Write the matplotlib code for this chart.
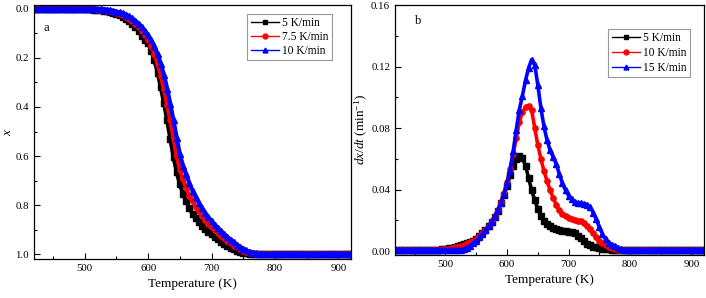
import numpy as np
import matplotlib
matplotlib.use("Agg")
import matplotlib.pyplot as plt
from matplotlib.lines import Line2D
from matplotlib.ticker import MultipleLocator, FormatStrFormatter

plt.rcParams['font.family'] = ['Liberation Serif', 'DejaVu Serif']
plt.rcParams['mathtext.fontset'] = 'custom'
plt.rcParams['mathtext.rm'] = 'Liberation Serif'
plt.rcParams['mathtext.it'] = 'Liberation Serif:italic'

# temperature grid (K), 5 K sampling
temp = np.arange(420, 925, 5)

# panel a: conversion x
x_5 = [0.0, 0.0, 0.0, 0.0, 0.0, 0.0, 0.0, 0.0, 0.0, 0.0, 0.0, 0.0, 0.0, 0.0, 0.0, 0.0,
       0.001, 0.001, 0.002, 0.003, 0.004, 0.006, 0.008, 0.010, 0.013, 0.016,
       0.020, 0.025, 0.032, 0.040, 0.050, 0.062, 0.075, 0.091, 0.110, 0.125,
       0.140, 0.170, 0.210, 0.260, 0.320, 0.385, 0.455, 0.530, 0.605, 0.665,
       0.715, 0.755, 0.785, 0.812, 0.835, 0.853, 0.870, 0.884, 0.897, 0.909,
       0.920, 0.930, 0.940, 0.950, 0.959, 0.967, 0.974, 0.980, 0.986, 0.990,
       0.994, 0.997, 0.998, 0.999,
       1.0, 1.0, 1.0, 1.0, 1.0, 1.0, 1.0, 1.0, 1.0, 1.0, 1.0, 1.0, 1.0, 1.0, 1.0, 1.0,
       1.0, 1.0, 1.0, 1.0, 1.0, 1.0, 1.0, 1.0, 1.0, 1.0, 1.0, 1.0, 1.0, 1.0, 1.0]
x_75 = [0.0, 0.0, 0.0, 0.0, 0.0, 0.0, 0.0, 0.0, 0.0, 0.0, 0.0, 0.0, 0.0, 0.0, 0.0, 0.0, 0.0, 0.0,
        0.001, 0.002, 0.003, 0.004, 0.006, 0.008, 0.010, 0.013, 0.016, 0.020,
        0.025, 0.032, 0.040, 0.050, 0.061, 0.074, 0.090, 0.108, 0.128, 0.153,
        0.185, 0.225, 0.272, 0.328, 0.390, 0.455, 0.528, 0.600, 0.655, 0.695,
        0.730, 0.762, 0.785, 0.806, 0.826, 0.845, 0.862, 0.877, 0.890, 0.902,
        0.914, 0.925, 0.936, 0.946, 0.956, 0.965, 0.973, 0.980, 0.986, 0.991,
        0.994, 0.997, 0.999,
        1.0, 1.0, 1.0, 1.0, 1.0, 1.0, 1.0, 1.0, 1.0, 1.0, 1.0, 1.0, 1.0, 1.0, 1.0,
        1.0, 1.0, 1.0, 1.0, 1.0, 1.0, 1.0, 1.0, 1.0, 1.0, 1.0, 1.0, 1.0, 1.0, 1.0]
x_10 = [0.0, 0.0, 0.0, 0.0, 0.0, 0.0, 0.0, 0.0, 0.0, 0.0, 0.0, 0.0, 0.0, 0.0, 0.0, 0.0, 0.0, 0.0, 0.0, 0.0,
        0.001, 0.002, 0.003, 0.004, 0.006, 0.008, 0.011, 0.014, 0.018, 0.023,
        0.030, 0.038, 0.048, 0.060, 0.073, 0.089, 0.107, 0.128, 0.153, 0.185,
        0.224, 0.270, 0.325, 0.388, 0.455, 0.525, 0.592, 0.640, 0.675, 0.710,
        0.742, 0.768, 0.790, 0.812, 0.832, 0.850, 0.866, 0.880, 0.893, 0.906,
        0.918, 0.930, 0.941, 0.951, 0.961, 0.970, 0.978, 0.985, 0.990, 0.994,
        0.997, 0.999, 0.999,
        1.0, 1.0, 1.0, 1.0, 1.0, 1.0, 1.0, 1.0, 1.0, 1.0, 1.0, 1.0, 1.0, 1.0,
        1.0, 1.0, 1.0, 1.0, 1.0, 1.0, 1.0, 1.0, 1.0, 1.0, 1.0, 1.0, 1.0, 1.0]

# panel b: conversion rate dx/dt (1/min)
r_5 = [0.0005, 0.0005, 0.0005, 0.0005, 0.0005, 0.0005, 0.0005, 0.0005, 0.0005, 0.0005, 0.0005,
       0.0006, 0.0007, 0.0008, 0.0009, 0.0011, 0.0014, 0.0017, 0.0021, 0.0026, 0.0031,
       0.0037, 0.0043, 0.0050, 0.0058, 0.0068, 0.0080, 0.0095, 0.0115, 0.0138, 0.0163,
       0.0190, 0.0222, 0.0262, 0.0310, 0.0365, 0.0420, 0.0495, 0.0555, 0.0600, 0.0616,
       0.0605, 0.0555, 0.0475, 0.0395, 0.0330, 0.0275, 0.0230, 0.0197, 0.0176, 0.0162,
       0.0150, 0.0140, 0.0134, 0.0130, 0.0128, 0.0126, 0.0122, 0.0114, 0.0100, 0.0082,
       0.0065, 0.0048, 0.0036, 0.0028, 0.0023, 0.0020, 0.0016, 0.0013, 0.0010, 0.0007,
       0.0004, 0.0004, 0.0004, 0.0004, 0.0004, 0.0004, 0.0004, 0.0004, 0.0004, 0.0004,
       0.0004, 0.0004, 0.0004, 0.0004, 0.0004, 0.0004, 0.0004, 0.0004, 0.0004, 0.0004,
       0.0004, 0.0004, 0.0004, 0.0004, 0.0004, 0.0004, 0.0004, 0.0004, 0.0004, 0.0004]
r_10 = [0.0005, 0.0005, 0.0005, 0.0005, 0.0005, 0.0005, 0.0005, 0.0005, 0.0005, 0.0005, 0.0005,
        0.0006, 0.0007, 0.0008, 0.0009, 0.0010, 0.0012, 0.0015, 0.0019, 0.0024, 0.0029,
        0.0035, 0.0042, 0.0050, 0.0058, 0.0068, 0.0080, 0.0095, 0.0114, 0.0137, 0.0163,
        0.0192, 0.0226, 0.0268, 0.0318, 0.0380, 0.0450, 0.0535, 0.0630, 0.0735, 0.0840,
        0.0905, 0.0935, 0.0944, 0.0915, 0.0800, 0.0690, 0.0600, 0.0520, 0.0455, 0.0395,
        0.0345, 0.0300, 0.0265, 0.0240, 0.0225, 0.0213, 0.0206, 0.0202, 0.0198, 0.0192,
        0.0180, 0.0162, 0.0140, 0.0115, 0.0090, 0.0068, 0.0050, 0.0036, 0.0025, 0.0017,
        0.0011, 0.0007,
        0.0004, 0.0004, 0.0004, 0.0004, 0.0004, 0.0004, 0.0004, 0.0004, 0.0004, 0.0004,
        0.0004, 0.0004, 0.0004, 0.0004, 0.0004, 0.0004, 0.0004, 0.0004, 0.0004, 0.0004,
        0.0004, 0.0004, 0.0004, 0.0004, 0.0004, 0.0004, 0.0004, 0.0004]
r_15 = [0.0005, 0.0005, 0.0005, 0.0005, 0.0005, 0.0005, 0.0005, 0.0005, 0.0005, 0.0005,
        0.0005, 0.0005, 0.0005, 0.0005, 0.0005, 0.0005, 0.0005, 0.0005, 0.0005, 0.0005,
        0.0006, 0.0008, 0.0012, 0.0022, 0.0035, 0.0050, 0.0068, 0.0088, 0.0110, 0.0134,
        0.0160, 0.0190, 0.0225, 0.0265, 0.0310, 0.0370, 0.0440, 0.0530, 0.0650, 0.0790,
        0.0920, 0.1010, 0.1110, 0.1190, 0.1245, 0.1210, 0.1080, 0.0930, 0.0810, 0.0720,
        0.0655, 0.0610, 0.0565, 0.0500, 0.0440, 0.0395, 0.0360, 0.0335, 0.0320, 0.0313,
        0.0310, 0.0308, 0.0302, 0.0285, 0.0250, 0.0205, 0.0155, 0.0110, 0.0075, 0.0055,
        0.0042, 0.0033, 0.0022, 0.0010,
        0.0005, 0.0005, 0.0005, 0.0005, 0.0005, 0.0005, 0.0005, 0.0005, 0.0005, 0.0005,
        0.0005, 0.0005, 0.0005, 0.0005, 0.0005, 0.0005, 0.0005, 0.0005, 0.0005, 0.0005,
        0.0005, 0.0005, 0.0005, 0.0005, 0.0005, 0.0005, 0.0005]

labels_a = ['5 K/min', '7.5 K/min', '10 K/min']
labels_b = ['5 K/min', '10 K/min', '15 K/min']
colors = ['black', 'red', 'blue']
markers = ['s', 'o', '^']

fig = plt.figure(figsize=(7.06, 2.98), dpi=100)
ax1 = fig.add_axes([0.0482, 0.1309, 0.449, 0.8523])
ax2 = fig.add_axes([0.5595, 0.1443, 0.4377, 0.8389])

# the original data are sampled so densely that markers merge into a thick band
for ys, c, m in zip([x_5, x_75, x_10], colors, markers):
    ax1.plot(temp, ys, color=c, marker=m, markersize=3.8, lw=3.0)
for ys, c, m in zip([r_5, r_10, r_15], colors, markers):
    ax2.plot(temp, ys, color=c, marker=m, markersize=3.8, lw=2.6)

ax1.set_xlim(420, 920)
ax1.set_ylim(1.02, -0.016)
ax1.yaxis.set_major_locator(MultipleLocator(0.2))
ax1.yaxis.set_minor_locator(MultipleLocator(0.1))
ax1.yaxis.set_major_formatter(FormatStrFormatter('%.1f'))
ax1.set_ylabel('$x$', fontsize=9.5, labelpad=1)

ax2.set_xlim(418, 920)
ax2.set_ylim(-0.0026, 0.16)
ax2.yaxis.set_major_locator(MultipleLocator(0.04))
ax2.yaxis.set_minor_locator(MultipleLocator(0.02))
ax2.yaxis.set_major_formatter(FormatStrFormatter('%.2f'))
ax2.set_ylabel('$dx/dt$ (min$^{-1}$)', fontsize=9.5, labelpad=1)

for ax, letter, labs, (lx, ly), (bx, by), lsp in [
        (ax1, 'a', labels_a, (0.04, 0.91), (0.94, 0.965), 0.15),
        (ax2, 'b', labels_b, (0.075, 0.935), (0.955, 0.905), 0.25)]:
    ax.xaxis.set_major_locator(MultipleLocator(100))
    ax.xaxis.set_minor_locator(MultipleLocator(50))
    ax.tick_params(which='both', direction='in', top=False, right=False,
                   labelsize=7.8, width=0.8)
    ax.tick_params(which='major', length=4)
    ax.tick_params(which='minor', length=2.5)
    for sp in ax.spines.values():
        sp.set_linewidth(0.9)
    ax.set_xlabel('Temperature (K)', fontsize=9.5, labelpad=4)
    ax.text(lx, ly, letter, transform=ax.transAxes, fontsize=9, va='center', ha='center')
    handles = [Line2D([], [], color=c, marker=m, markersize=3.5, lw=1)
               for c, m in zip(colors, markers)]
    leg = ax.legend(handles, labs, loc='upper right', bbox_to_anchor=(bx, by),
                    fontsize=8.3, numpoints=1, handlelength=2.4, handletextpad=0.3,
                    borderpad=0.3, labelspacing=lsp, fancybox=False,
                    framealpha=1, borderaxespad=0)
    leg.get_frame().set_edgecolor('#999999')
    leg.get_frame().set_linewidth(0.8)

fig.savefig('out.png', dpi=100)
